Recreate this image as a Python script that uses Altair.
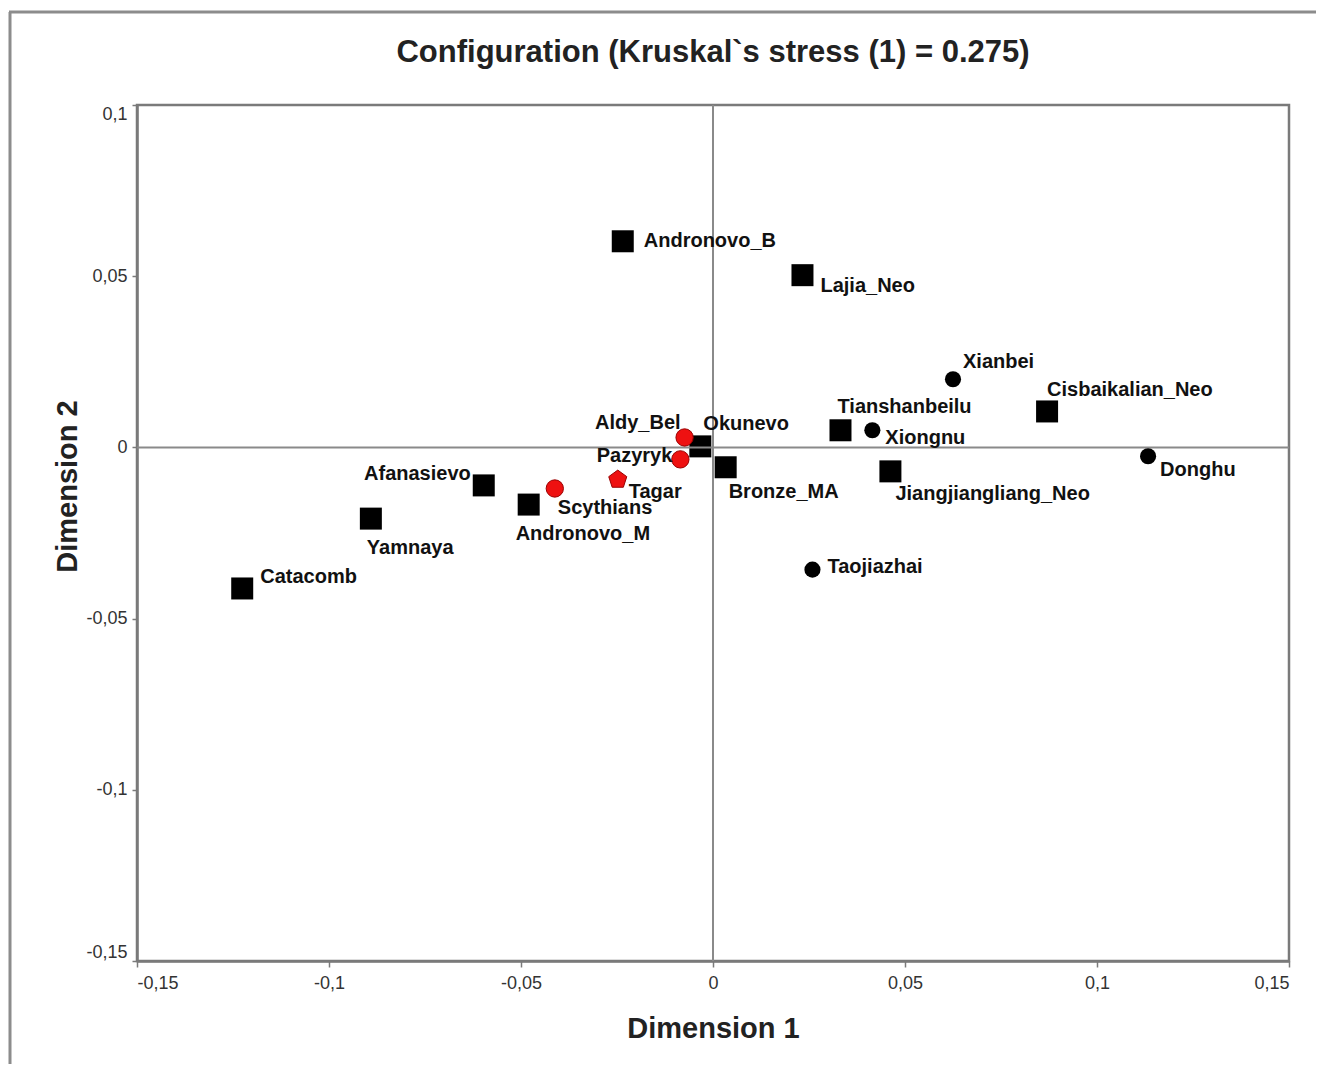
import altair as alt
import pandas as pd

# ---- data ----
labels = ["Andronovo_B", "Lajia_Neo", "Cisbaikalian_Neo", "Tianshanbeilu",
          "Jiangjiangliang_Neo", "Okunevo", "Bronze_MA", "Afanasievo",
          "Andronovo_M", "Yamnaya", "Catacomb",
          "Xianbei", "Xiongnu", "Donghu", "Taojiazhai",
          "Aldy_Bel", "Pazyryk", "Tagar", "Scythians"]
dim1 = [-0.0235, 0.0233, 0.0870, 0.0332, 0.0462, -0.0033, 0.0033, -0.0597,
        -0.0480, -0.0891, -0.1226,
        0.0625, 0.0415, 0.1133, 0.0259,
        -0.0074, -0.0085, -0.0248, -0.0412]
dim2 = [0.0602, 0.0503, 0.0105, 0.0050, -0.0070, 0.0003, -0.0058, -0.0111,
        -0.0167, -0.0208, -0.0412,
        0.0199, 0.0050, -0.0026, -0.0357,
        0.0029, -0.0035, -0.0094, -0.0120]
marker = ["square"] * 11 + ["circle"] * 4 + ["red_circle", "red_circle", "red_pentagon", "red_circle"]

x_ticks = [-0.15, -0.1, -0.05, 0, 0.05, 0.1, 0.15]
y_ticks = [-0.15, -0.1, -0.05, 0, 0.05, 0.1]

# label placement (align, dx, dy in pixels) per point
label_place = {
    "Andronovo_B": ("left", 21, 0), "Lajia_Neo": ("left", 18, 11),
    "Cisbaikalian_Neo": ("left", 0, -21), "Tianshanbeilu": ("left", -3, -23),
    "Jiangjiangliang_Neo": ("left", 5, 23), "Okunevo": ("left", 3, -22),
    "Bronze_MA": ("left", 3, 25), "Afanasievo": ("right", -13, -11),
    "Andronovo_M": ("left", -13, 29), "Yamnaya": ("left", -4, 29),
    "Catacomb": ("left", 18, -11), "Xianbei": ("left", 10, -17),
    "Xiongnu": ("left", 13, 8), "Donghu": ("left", 12, 14),
    "Taojiazhai": ("left", 15, -3), "Aldy_Bel": ("right", -4, -14),
    "Pazyryk": ("right", -8, -3), "Tagar": ("left", 11, 12),
    "Scythians": ("left", 3, 20),
}

df = pd.DataFrame({"label": labels, "dim1": dim1, "dim2": dim2, "marker": marker})

FONT = "Liberation Sans"
label_expr = "replace(toString(datum.value), '.', ',')"
FRAME = "#7a7a7a"

x_enc = alt.X("dim1:Q", title="Dimension 1",
              scale=alt.Scale(domain=[-0.15, 0.15], nice=False, zero=False),
              axis=alt.Axis(values=x_ticks, labelExpr=label_expr, grid=False,
                            domain=True, domainColor=FRAME, domainWidth=2.5,
                            tickSize=6, tickColor=FRAME, tickWidth=1.5,
                            labelFlush=True, labelPadding=7, labelFontSize=18,
                            labelColor="#333333", labelFont=FONT,
                            titleFont=FONT, titleFontSize=29, titleFontWeight="bold",
                            titleColor="#222222", titlePadding=22))
y_enc = alt.Y("dim2:Q", title="Dimension 2",
              scale=alt.Scale(domain=[-0.15, 0.1], nice=False, zero=False),
              axis=alt.Axis(values=y_ticks, labelExpr=label_expr, grid=False,
                            domain=True, domainColor=FRAME, domainWidth=2.5,
                            tickSize=5, tickColor=FRAME, tickWidth=1.5,
                            labelFlush=True, labelPadding=5, labelFontSize=18,
                            labelColor="#333333", labelFont=FONT,
                            titleFont=FONT, titleFontSize=29, titleFontWeight="bold",
                            titleColor="#222222", titleX=-55, titleY=381,
                            titleAngle=270, titleBaseline="bottom", titleAlign="center"))

base = alt.Chart(df)

zero_data = alt.Data(values=[{"v": 0}])
vline = alt.Chart(zero_data).mark_rule(color="#8a8a8a", strokeWidth=2).encode(x="v:Q")
hline = alt.Chart(zero_data).mark_rule(color="#8a8a8a", strokeWidth=2).encode(y="v:Q")

points_sq = base.transform_filter(alt.datum.marker == "square").mark_point(
    shape="square", filled=True, color="black", size=484, opacity=1).encode(x=x_enc, y=y_enc)
points_ci = base.transform_filter(alt.datum.marker == "circle").mark_point(
    shape="circle", filled=True, color="black", size=260, opacity=1).encode(x="dim1:Q", y="dim2:Q")
points_red = base.transform_filter(alt.datum.marker == "red_circle").mark_point(
    shape="circle", filled=True, fill="#ee1111", stroke="#9a0000", strokeWidth=1,
    size=300, opacity=1).encode(x="dim1:Q", y="dim2:Q")
pentagon = "M0,-1L0.951,-0.309L0.588,0.809L-0.588,0.809L-0.951,-0.309Z"
points_pent = base.transform_filter(alt.datum.marker == "red_pentagon").mark_point(
    shape=pentagon, filled=True, fill="#ee1111", stroke="#9a0000", strokeWidth=1,
    size=360, opacity=1).encode(x="dim1:Q", y="dim2:Q")

text_layers = []
for name in labels:
    align, dx, dy = label_place[name]
    text_layers.append(
        base.transform_filter(alt.datum.label == name).mark_text(
            align=align, baseline="middle", dx=dx, dy=dy, font=FONT,
            fontSize=20, fontWeight="bold", color="#111111"
        ).encode(x="dim1:Q", y="dim2:Q", text="label:N")
    )

# outer figure border (left and top edges)
border_data = alt.Data(values=[{"b": 1}])
border_left = alt.Chart(border_data).mark_rule(color="#8c8c8c", strokeWidth=3).encode(
    x=alt.value(-127), y=alt.value(-93), y2=alt.value(1100))
border_top = alt.Chart(border_data).mark_rule(color="#8c8c8c", strokeWidth=3).encode(
    x=alt.value(-128), x2=alt.value(1300), y=alt.value(-93))

chart = alt.layer(
    points_sq, vline, hline, points_ci, points_red, points_pent, *text_layers,
    border_left, border_top
).properties(
    width=1152, height=856,
    background="white",
    title=alt.TitleParams("Configuration (Kruskal`s stress (1) = 0.275)",
                          font=FONT, fontSize=31, fontWeight="bold", color="#222222",
                          anchor="middle", offset=-82, baseline="alphabetic"),
    autosize=alt.AutoSizeParams(type="none"),
    padding={"left": 129, "top": 97, "right": 27, "bottom": 103},
).configure_view(
    stroke=FRAME, strokeWidth=2.5
)

chart.save("out.html", embed_options={"renderer": "svg", "actions": False})
